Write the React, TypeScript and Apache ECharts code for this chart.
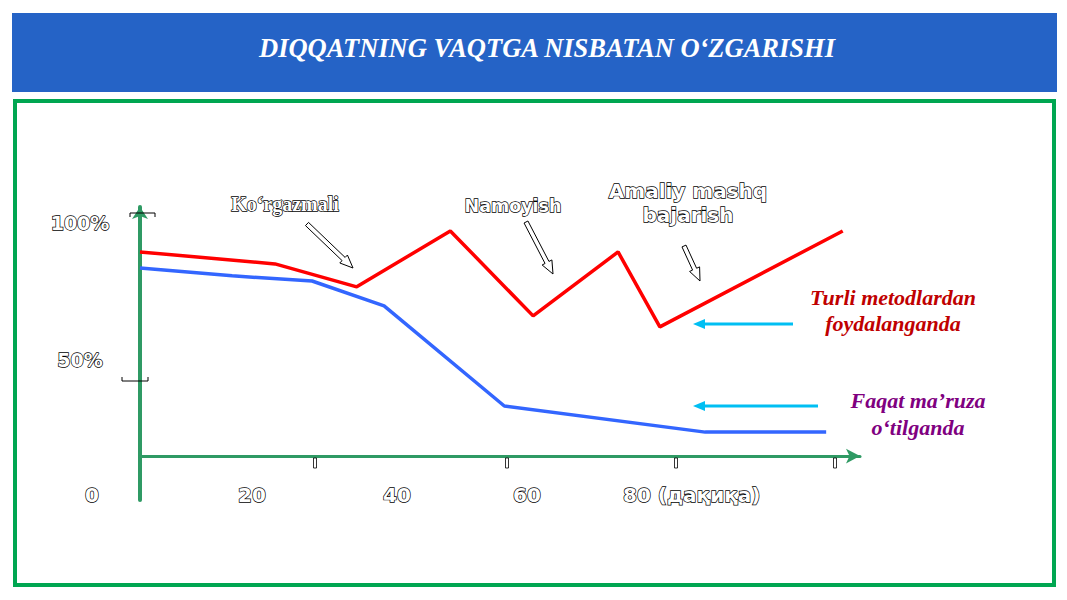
import React, { useEffect, useRef } from "react";
import * as echarts from "echarts";

const title = "DIQQATNING VAQTGA NISBATAN O‘ZGARISHI";
// x in schematic time units (0..100), y in percent of attention
const redX = [0, 18.75, 30.1, 43.1, 54.6, 66.4, 72.2, 97.6];
const redY = [83.6, 78.7, 69.3, 92.2, 57.4, 83.6, 52.9, 92.2];
const blueX = [0, 12.8, 23.9, 33.9, 50.6, 78.5, 95.3];
const blueY = [77, 73.8, 71.7, 61.5, 20.5, 9.8, 9.8];
const xTickLabels = ["0", "20", "40", "60", "80 (дақиқа)"];
const yTickLabels = ["100%", "50%"];
const redLabel = "Turli metodlardan\nfoydalanganda";
const blueLabel = "Faqat ma’ruza\no‘tilganda";
const notes = ["Ko‘rgazmali", "Namoyish", "Amaliy mashq\nbajarish"];

const GREEN = "#2F9A64";
const SANS = "'DejaVu Sans', sans-serif";

function hollowArrow(x1: number, y1: number, x2: number, y2: number) {
  const dx = x2 - x1, dy = y2 - y1;
  const L = Math.hypot(dx, dy);
  const ux = dx / L, uy = dy / L;
  const nx = -uy, ny = ux;
  const sw = 2.2, hw = 5.5, hl = 13;
  const neckX = x2 - ux * hl, neckY = y2 - uy * hl;
  const pts = [
    [x1 + nx * sw, y1 + ny * sw],
    [neckX + nx * sw, neckY + ny * sw],
    [neckX + nx * hw, neckY + ny * hw],
    [x2, y2],
    [neckX - nx * hw, neckY - ny * hw],
    [neckX - nx * sw, neckY - ny * sw],
    [x1 - nx * sw, y1 - ny * sw],
  ];
  return {
    type: "polygon",
    shape: { points: pts },
    style: { fill: "#fff", stroke: "#000", lineWidth: 1 },
    z: 10,
  };
}

function cyanArrow(x1: number, x2: number, y: number) {
  return [
    {
      type: "line",
      shape: { x1: x1, y1: y, x2: x2 + 8, y2: y },
      style: { stroke: "#00BFF3", lineWidth: 3 },
      z: 10,
    },
    {
      type: "polygon",
      shape: { points: [[x2, y], [x2 + 12, y - 5], [x2 + 12, y + 5]] },
      style: { fill: "#00BFF3" },
      z: 10,
    },
  ];
}

const outlined = (text: string, x: number, y: number, font: string, align = "center") => ({
  type: "text",
  x,
  y,
  style: {
    text,
    font,
    fill: "#fff",
    stroke: "#000",
    lineWidth: 1.4,
    align,
    verticalAlign: "middle",
    lineHeight: 24,
  },
  z: 10,
});

function tickRect(x: number) {
  return {
    type: "rect",
    shape: { x: x - 1.5, y: 458, width: 3, height: 10 },
    style: { fill: "#fff", stroke: "#000", lineWidth: 0.8 },
    z: 10,
  };
}

export default function App() {
  const ref = useRef<HTMLDivElement>(null);
  useEffect(() => {
    if (!ref.current) return;
    const chart = echarts.init(ref.current, null, { renderer: "svg" });
    const xLabelPos = [92, 252, 397, 527, 623];
    const option: any = {
      animation: false,
      backgroundColor: "#fff",
      grid: { left: 140, right: 207, top: 207, bottom: 100 },
      xAxis: {
        type: "value",
        min: 0,
        max: 100,
        axisLine: {
          show: true,
          onZero: true,
          symbol: ["none", "arrow"],
          symbolSize: [11, 14],
          lineStyle: { color: GREEN, width: 3 },
        },
        axisTick: { show: false },
        axisLabel: { show: false },
        splitLine: { show: false },
      },
      yAxis: {
        type: "value",
        min: -18,
        max: 102,
        axisLine: {
          show: true,
          symbol: ["none", "arrow"],
          symbolSize: [12, 12],
          lineStyle: { color: GREEN, width: 4 },
        },
        axisTick: { show: false },
        axisLabel: { show: false },
        splitLine: { show: false },
      },
      series: [
        {
          type: "line",
          data: redX.map((x, i) => [x, redY[i]]),
          symbol: "none",
          lineStyle: { color: "#FF0000", width: 3.5 },
          z: 5,
        },
        {
          type: "line",
          data: blueX.map((x, i) => [x, blueY[i]]),
          symbol: "none",
          lineStyle: { color: "#3366FF", width: 3.5 },
          z: 4,
        },
      ],
      graphic: [
        {
          type: "rect",
          shape: { x: 12, y: 13, width: 1045, height: 79 },
          style: { fill: "#2563C6" },
        },
        {
          type: "text",
          x: 547,
          y: 48,
          style: {
            text: title,
            font: "italic bold 26.5px 'Liberation Serif', serif",
            fill: "#fff",
            align: "center",
            verticalAlign: "middle",
          },
        },
        {
          type: "rect",
          shape: { x: 15, y: 101, width: 1039, height: 484 },
          style: { fill: "none", stroke: "#00A651", lineWidth: 4 },
        },
        // y tick marks
        {
          type: "polyline",
          shape: { points: [[130, 217], [130, 213], [155, 213], [155, 217]] },
          style: { stroke: "#000", lineWidth: 1, fill: "none" },
          z: 10,
        },
        {
          type: "polyline",
          shape: { points: [[122, 377], [122, 381], [148, 381], [148, 377]] },
          style: { stroke: "#000", lineWidth: 1, fill: "none" },
          z: 10,
        },
        outlined(yTickLabels[0], 80, 223, "bold 19px " + SANS),
        outlined(yTickLabels[1], 80, 360, "bold 19px " + SANS),
        tickRect(315),
        tickRect(507),
        tickRect(676),
        tickRect(835),
        ...xTickLabels.map((t, i) =>
          outlined(t, xLabelPos[i], 495, "bold 20px " + SANS, i === 4 ? "left" : "center")
        ),
        outlined(notes[0], 285, 204, "bold 20px 'Liberation Serif', serif"),
        outlined(notes[1], 513, 206, "bold 17.5px " + SANS),
        outlined(notes[2], 688, 203, "bold 20px " + SANS),
        hollowArrow(307, 224, 353, 268),
        hollowArrow(526, 222, 553, 274),
        hollowArrow(684, 246, 700, 281),
        ...cyanArrow(793, 693, 324),
        ...cyanArrow(818, 693, 406),
        {
          type: "text",
          x: 893,
          y: 310,
          style: {
            text: redLabel,
            font: "italic bold 22px 'Liberation Serif', serif",
            fill: "#C00000",
            align: "center",
            verticalAlign: "middle",
            lineHeight: 26,
          },
        },
        {
          type: "text",
          x: 918,
          y: 414,
          style: {
            text: blueLabel,
            font: "italic bold 22px 'Liberation Serif', serif",
            fill: "#800080",
            align: "center",
            verticalAlign: "middle",
            lineHeight: 27,
          },
        },
      ],
    };
    chart.setOption(option);
    return () => chart.dispose();
  }, []);
  return (
    <div
      ref={ref}
      style={{ position: "fixed", left: 0, top: 0, width: 1067, height: 600, background: "#fff" }}
    />
  );
}
